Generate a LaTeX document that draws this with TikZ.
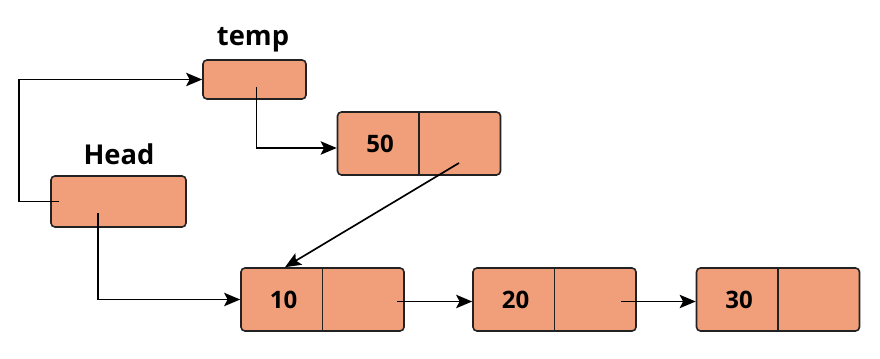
\documentclass[tikz,border=0pt]{standalone}
\usepackage{fontspec}
\setmainfont{Open Sans}
\usetikzlibrary{arrows.meta,calc}
\definecolor{boxfill}{HTML}{F19F7A}
\definecolor{boxline}{HTML}{222222}
\tikzset{
  box/.style={draw=boxline, fill=boxfill, line width=1.2pt, rounded corners=3pt, inner sep=0pt, minimum width=#1*0.75pt},
  box/.default=163,
  onebox/.style={box=#1, minimum height=39*0.75pt},
  listbox/.style={box=163, minimum height=63*0.75pt},
  headbox/.style={box=135, minimum height=51*0.75pt},
  numtxt/.style={font=\fontsize{18}{21}\selectfont\bfseries, inner sep=0pt},
  lbltxt/.style={font=\fontsize{20.5}{24}\selectfont\bfseries, inner sep=0pt, anchor=base},
  arr/.style={draw=black, line width=1.25pt, -{Stealth[length=12pt,width=10pt,inset=2.5pt]}},
  divider/.style={draw=boxline, line width=1.2pt}
}
\begin{document}
\begin{tikzpicture}[x=0.75pt,y=-0.75pt]
\useasboundingbox (0,0) rectangle (880,359);
% pointer boxes
\node[onebox=103] (temp) at (254.5,79.5) {};
\node[lbltxt] (templbl) at (253,46) {temp};
\node[headbox] (head) at (118.5,201.5) {};
\node[lbltxt] (headlbl) at (119,165) {Head};
% list nodes
\node[listbox] (n50) at (419,143.5) {};
\node[listbox] (n10) at (322.5,299.5) {};
\node[listbox] (n20) at (554.5,299.5) {};
\node[listbox] (n30) at (778,299.5) {};
\foreach \n/\v in {n50/50,n10/10,n20/20,n30/30}{
  \draw[divider] (\n.north) -- (\n.south);
  \node[numtxt] (\n txt) at ($(\n.center)+(-39,0)$) {\v};
}
% connectors
\draw[arr] ($(head.west)+(9,0)$) -- ($(head.west)+(-31,0)$) |- (temp.west);
\draw[arr] ($(temp.center)+(2,8)$) |- ($(n50.west)+(0,4.5)$);
\draw[arr] ($(n50.center)+(40,19.5)$) -- ($(n10.north)+(-37.5,0)$);
\draw[arr] ($(head.center)+(-20.5,11.5)$) |- (n10.west);
\draw[arr] ($(n10.center)+(74.5,2)$) -- ($(n20.west)+(0,2)$);
\draw[arr] ($(n20.center)+(66.5,2)$) -- ($(n30.west)+(0,2)$);
\end{tikzpicture}
\end{document}
